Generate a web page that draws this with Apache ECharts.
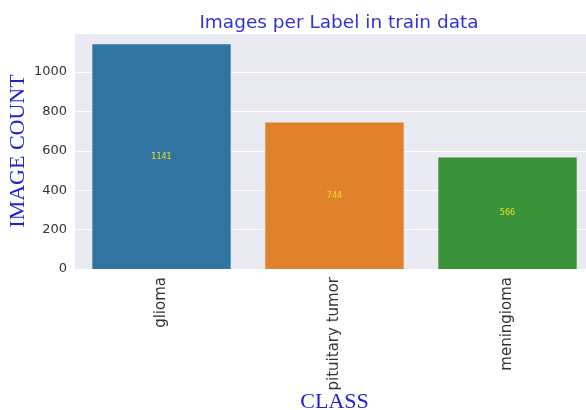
<!DOCTYPE html>
<html>
<head>
<meta charset="utf-8">
<script src="https://cdn.jsdelivr.net/npm/echarts@6/dist/echarts.min.js"></script>
<style>
  html, body { margin: 0; padding: 0; background: #ffffff; }
  #chart { width: 586px; height: 410px; }
</style>
</head>
<body>
<div id="chart"></div>
<script>
// Image counts per class in the training set
const categories = ['glioma', 'pituitary tumor', 'meningioma'];
const counts = [1141, 744, 566];
const barColors = ['#3274A1', '#E1812C', '#3A923A'];
const yTicks = [0, 200, 400, 600, 800, 1000];

const chart = echarts.init(document.getElementById('chart'), null, { renderer: 'canvas' });

const topValue = Math.max(...counts) * 1.05;

chart.setOption({
  animation: false,
  backgroundColor: '#ffffff',
  title: {
    text: 'Images per Label in train data',
    left: 334,
    top: 9,
    textAlign: 'center',
    textStyle: { fontFamily: 'DejaVu Sans', fontSize: 18.5, fontWeight: 'normal', color: '#3434d2' }
  },
  grid: {
    left: 75,
    top: 33,
    width: 519,
    height: 236,
    outerBoundsMode: 'none',
    containLabel: false,
    show: true,
    backgroundColor: '#EAEAF2',
    borderWidth: 0
  },
  xAxis: {
    type: 'category',
    data: categories,
    name: 'CLASS',
    nameLocation: 'middle',
    nameGap: 122,
    nameMoveOverlap: false,
    nameTextStyle: { fontFamily: 'Liberation Serif', fontSize: 22, color: '#2020d0' },
    axisLine: { show: false },
    axisTick: { show: false },
    splitLine: { show: false },
    axisLabel: {
      rotate: 90,
      margin: 8,
      fontFamily: 'DejaVu Sans',
      fontSize: 15,
      color: '#333333'
    }
  },
  yAxis: {
    type: 'value',
    min: 0,
    max: topValue,
    interval: 200,
    name: 'IMAGE COUNT',
    nameLocation: 'middle',
    nameGap: 46,
    nameMoveOverlap: false,
    nameTextStyle: { fontFamily: 'Liberation Serif', fontSize: 22, color: '#2020d0' },
    axisLine: { show: false },
    axisTick: { show: false },
    splitLine: { show: true, lineStyle: { color: '#ffffff', width: 1 } },
    axisLabel: {
      margin: 8,
      fontFamily: 'DejaVu Sans',
      fontSize: 13,
      color: '#333333',
      showMaxLabel: false,
      formatter: function (v) { return yTicks.indexOf(v) >= 0 ? String(v) : ''; }
    }
  },
  series: [{
    type: 'bar',
    data: counts.map((v, i) => ({ value: v, itemStyle: { color: barColors[i] } })),
    barCategoryGap: '20%',
    label: {
      show: true,
      position: 'inside',
      fontFamily: 'DejaVu Sans',
      fontSize: 8,
      color: '#e8e020'
    }
  }]
});
</script>
</body>
</html>
